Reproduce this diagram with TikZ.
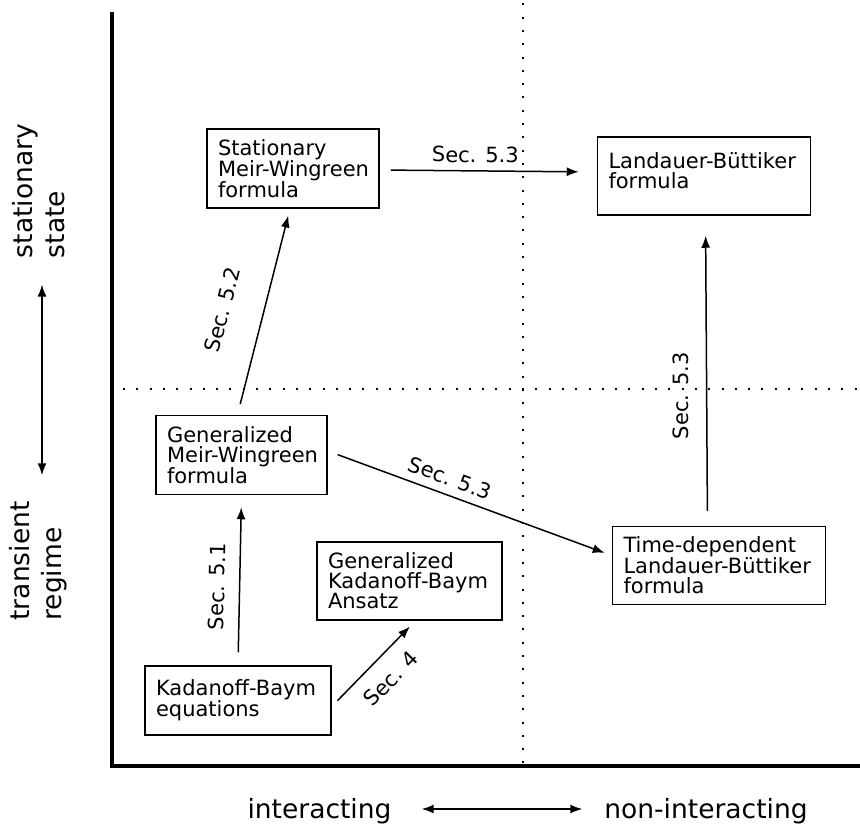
\documentclass[tikz,border=0pt]{standalone}
\usepackage{fontspec}
\setmainfont{DejaVu Sans}
\usetikzlibrary{positioning, arrows.meta}
\setlength{\lineskiplimit}{-20pt}
\hyphenpenalty=10000
\exhyphenpenalty=10000

\begin{document}
\begin{tikzpicture}[x=1pt, y=-1pt, >={Latex[length=12pt,width=9pt]},
        stage/.style={draw, line width=1.5pt, align=left, inner xsep=11pt, font=\fontsize{21}{20}\selectfont},
        sec/.style={sloped, font=\fontsize{21}{20}\selectfont},
        link/.style={->, line width=1.5pt},
        axis/.style={line width=3.5pt},
        grid/.style={line width=2pt, dash pattern=on 2pt off 11.3pt},
        axislabel/.style={align=left, font=\fontsize{26.5}{32}\selectfont}]
        \useasboundingbox (0,0) rectangle (860,827);

        % frame and quadrants
        \coordinate (top) at (112,12);
        \coordinate (origin) at (112,766);
        \coordinate (right) at (860,766);
        \draw[axis] (top) -- (origin) -- (right);
        \draw[grid] (522.5,3.3) -- (522.5,766);
        \draw[grid] (123,389) -- (860,389);

        \node[stage, text width=150pt, minimum height=79pt] (smw) at (293,168.5) {Stationary\\Meir-Wingreen\\formula};
        \node[stage, text width=149pt, minimum height=79pt] (gmw) [below=206pt of smw, xshift=-51.5pt] {Generalized\\Meir-Wingreen\\formula};
        \node[stage, text width=164pt, minimum height=69pt] (kb) [below=170pt of gmw, xshift=-3.5pt] {Kadanoff-Baym\\equations};
        \node[stage, text width=163pt, minimum height=78pt] (gkba) at (409.5,581) {Generalized\\Kadanoff-Baym\\Ansatz};
        \node[stage, text width=191pt, minimum height=78pt, text depth=30pt] (lb) [right=217pt of smw, yshift=-7.5pt] {Landauer-Büttiker\\formula};
        \node[stage, text width=191pt, minimum height=78pt] (tdlb) [below=310pt of lb, xshift=15pt] {Time-dependent\\Landauer-Büttiker\\formula};

        \draw[link, shorten <=13pt, shorten >=12pt] (kb.north) -- node[sec, above, pos=0.46, inner sep=14pt] {Sec. 5.1} (gmw.south);
        \draw[link, shorten <=8pt, shorten >=8pt] ([yshift=-6pt]kb.east) -- node[sec, below, pos=0.51, inner sep=14pt] {Sec. 4} ([xshift=6pt]gkba.south);
        \draw[link, shorten <=11pt, shorten >=7pt] ([xshift=-4pt]gmw.north) -- node[sec, above, pos=0.46, inner sep=32pt] {Sec. 5.2} ([xshift=-3pt]smw.south);
        \draw[link, shorten <=11pt, shorten >=18pt] ([yshift=-1.5pt]smw.east) -- node[sec, above, pos=0.44, inner sep=7.5pt] {Sec. 5.3} ([yshift=4pt]lb.west);
        \draw[link, shorten <=10.5pt, shorten >=7.5pt] ([yshift=4pt]gmw.east) -- node[sec, above, pos=0.41, inner sep=8pt] {Sec. 5.3} ([yshift=10pt]tdlb.west);
        \draw[link, shorten <=15pt, shorten >=20pt] ([xshift=-11.5pt]tdlb.north) -- node[sec, allow upside down, above, pos=0.42, inner sep=17pt] {Sec. 5.3} ([xshift=1.5pt]lb.south);

        % axis labels
        \node[axislabel, rotate=90] (stat) at (39,191) {stationary\\state};
        \node[axislabel, rotate=90] (trans) at (38,561) {transient\\regime};
        \draw[<->, line width=1.5pt, shorten <=23pt, shorten >=22.7pt] ([xshift=3pt]stat.west) -- ([xshift=4pt]trans.east);

        \node[axislabel] (inter) at (319.5,811) {interacting};
        \node[axislabel] (noninter) at (706,811) {non-interacting};
        \draw[<->, line width=1.5pt, shorten <=26.7pt, shorten >=18.5pt] ([yshift=2pt]inter.east) -- ([yshift=2pt]noninter.west);
    \end{tikzpicture}
\end{document}
